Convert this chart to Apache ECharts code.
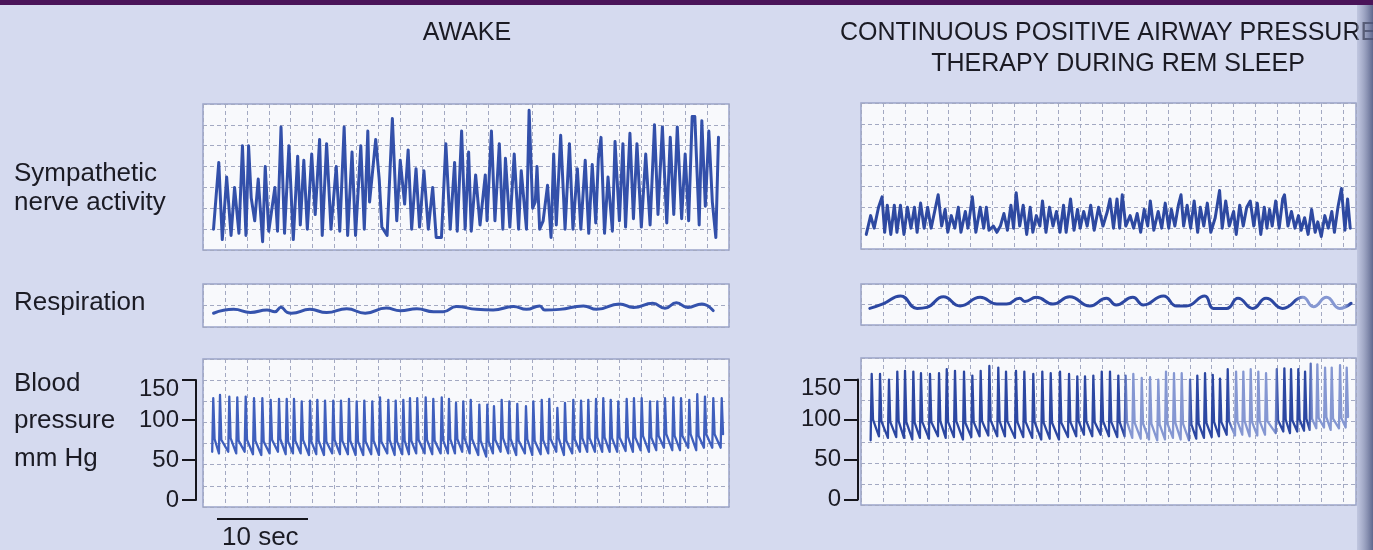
<!DOCTYPE html>
<html><head><meta charset="utf-8">
<script src="https://cdn.jsdelivr.net/npm/echarts@6/dist/echarts.min.js"></script>
<style>html,body{margin:0;padding:0;background:#d5daef;}#c{width:1373px;height:550px;}</style>
</head><body><div id="c"></div>
<script>
// ---------- DATA (time in s, nerve activity / respiration in grid units, BP in mmHg) ----------
const titleLeft = 'AWAKE';
const titleRight1 = 'CONTINUOUS POSITIVE AIRWAY PRESSURE';
const titleRight2 = 'THERAPY DURING REM SLEEP';
const rowLabels = [['Sympathetic', 'nerve activity'], ['Respiration'], ['Blood', 'pressure', 'mm Hg']];
const bpTicks = [0, 50, 100, 150];
const scaleBarLabel = '10 sec';

const symAwake = [[1.2,1.0],[1.8,4.2],[2.2,0.5],[2.7,3.5],[3.2,0.7],[3.6,3.0],[4.1,0.8],[4.5,5.0],[4.9,0.7],[5.2,5.0],[5.5,2.5],[5.9,1.4],[6.3,3.4],[6.8,0.4],[7.1,4.0],[7.5,0.9],[8.2,3.0],[8.5,0.9],[8.9,5.9],[9.3,0.8],[9.8,5.0],[10.3,0.5],[10.8,4.5],[11.1,1.2],[11.5,4.3],[11.9,1.0],[12.4,4.6],[12.8,1.7],[13.3,5.3],[13.6,0.7],[14.1,5.1],[14.6,1.0],[15.2,4.0],[15.6,0.9],[16.1,5.9],[16.5,0.7],[17.0,4.7],[17.4,0.7],[18.0,5.0],[18.4,1.0],[18.8,5.7],[19.0,2.3],[19.7,5.3],[20.1,3.4],[20.4,1.1],[21.0,0.7],[21.6,6.3],[22.1,1.4],[22.5,4.3],[23.0,2.2],[23.4,4.8],[23.8,1.0],[24.3,3.9],[24.7,1.1],[25.2,3.8],[25.7,1.0],[26.2,3.0],[26.6,0.6],[27.2,0.6],[27.7,5.1],[28.2,1.0],[28.7,4.2],[29.0,0.9],[29.5,5.7],[29.9,1.0],[30.3,4.7],[30.6,0.9],[31.1,3.6],[31.6,1.2],[32.2,3.6],[32.4,1.4],[32.9,5.7],[33.3,1.4],[33.8,5.1],[34.2,1.0],[34.5,4.4],[35.0,1.1],[35.5,4.6],[36.0,1.0],[36.3,3.8],[36.9,1.0],[37.2,6.7],[37.6,2.0],[37.9,2.3],[38.1,4.0],[38.4,1.0],[38.8,1.4],[39.3,3.1],[39.7,0.6],[40.0,4.6],[40.3,1.2],[40.8,5.5],[41.3,1.0],[41.8,5.1],[42.2,1.0],[42.7,3.9],[43.1,1.0],[43.6,4.3],[44.0,0.8],[44.4,4.1],[44.8,1.3],[45.1,4.4],[45.4,5.4],[45.8,0.8],[46.2,3.5],[46.7,0.9],[47.0,5.2],[47.5,1.4],[47.9,5.1],[48.2,1.1],[48.7,5.6],[49.1,1.5],[49.5,5.1],[50.0,1.1],[50.5,4.6],[51.0,1.2],[51.5,6.0],[51.9,1.7],[52.4,5.9],[52.9,1.3],[53.3,5.4],[53.7,1.7],[54.1,5.9],[54.6,1.5],[55.0,4.6],[55.4,1.4],[55.8,6.4],[56.1,6.4],[56.6,1.2],[56.9,6.2],[57.3,2.1],[57.7,5.7],[58.1,2.3],[58.5,0.6],[58.8,5.4]];

const symCpap = [[0.6,0.7],[1.1,1.6],[1.5,1.0],[2.0,2.0],[2.4,2.5],[2.7,0.8],[3.0,2.1],[3.4,0.7],[3.8,2.1],[4.1,0.8],[4.5,2.1],[4.9,0.7],[5.3,2.0],[5.7,1.0],[6.1,2.0],[6.4,0.8],[6.8,2.2],[7.2,1.0],[7.6,2.0],[8.0,1.0],[8.4,1.8],[8.8,2.6],[9.2,1.1],[9.6,1.9],[9.9,0.8],[10.3,1.6],[10.7,1.0],[11.1,2.0],[11.4,0.8],[11.9,1.8],[12.2,1.0],[12.7,2.5],[13.1,0.8],[13.6,2.0],[14.0,1.0],[14.3,2.0],[14.6,0.9],[15.1,1.1],[15.5,0.8],[15.9,1.1],[16.3,1.7],[16.7,0.9],[17.1,2.1],[17.4,1.0],[17.7,2.7],[18.1,1.1],[18.5,2.1],[18.9,0.7],[19.3,2.0],[19.6,0.8],[20.0,1.6],[20.4,1.1],[20.7,2.3],[21.1,0.8],[21.5,2.0],[21.9,1.1],[22.3,1.8],[22.7,0.8],[23.1,2.1],[23.4,0.8],[23.9,2.4],[24.3,0.9],[24.7,1.9],[25.0,1.0],[25.4,1.8],[25.8,1.1],[26.2,2.1],[26.6,0.9],[27.1,2.0],[27.6,1.1],[28.1,1.8],[28.4,2.4],[28.8,1.0],[29.2,2.4],[29.5,1.0],[29.8,2.6],[30.2,1.1],[30.7,1.6],[31.1,1.0],[31.5,1.7],[31.9,0.8],[32.3,1.9],[32.7,1.1],[33.0,2.3],[33.4,0.9],[33.9,1.8],[34.3,1.0],[34.7,2.2],[35.1,1.0],[35.4,1.9],[35.8,1.1],[36.2,2.1],[36.5,2.6],[36.8,1.1],[37.2,2.1],[37.6,1.0],[38.0,2.3],[38.4,0.8],[38.7,2.0],[39.1,1.1],[39.5,2.2],[39.9,0.8],[40.4,1.5],[40.9,2.8],[41.2,1.0],[41.6,2.3],[42.0,1.1],[42.5,1.8],[42.8,0.7],[43.2,2.1],[43.6,1.1],[44.0,2.0],[44.4,2.3],[44.8,1.1],[45.2,2.2],[45.6,0.7],[46.0,2.0],[46.3,1.0],[46.6,1.9],[46.9,1.1],[47.3,2.3],[47.7,1.0],[48.1,2.4],[48.3,2.6],[48.7,1.1],[49.1,1.8],[49.5,1.0],[49.9,1.6],[50.2,0.9],[50.6,1.5],[51.0,0.7],[51.4,1.9],[51.8,0.8],[52.1,1.3],[52.5,0.6],[52.9,1.6],[53.3,1.0],[53.7,1.8],[54.0,0.8],[54.4,2.0],[54.8,2.9],[55.2,0.9],[55.5,2.4],[55.8,1.0]];

const respAwake = [[1.2,0.64],[3.5,0.82],[5.4,0.68],[7.3,0.79],[8.2,0.71],[8.9,0.92],[9.6,0.68],[10.1,0.64],[12.2,0.82],[14.1,0.67],[16.4,0.85],[18.5,0.64],[20.9,0.88],[22.5,0.76],[24.4,0.85],[26.3,0.71],[27.4,0.71],[28.9,0.95],[31.2,0.82],[33.1,0.79],[35.4,0.95],[36.9,0.82],[38.4,0.98],[39.0,0.79],[40.7,0.82],[43.4,0.98],[44.9,0.82],[47.5,1.07],[49.1,0.91],[51.3,1.10],[52.7,0.87],[54.0,1.13],[55.3,0.91],[56.9,1.07],[58.2,0.76]];

const respCpap = [[1.0,0.81],[2.5,1.03],[4.5,1.42],[6.4,0.81],[7.5,0.86],[9.4,1.38],[11.3,0.93],[13.6,1.35],[15.5,1.02],[16.6,1.02],[18.1,1.30],[18.7,1.15],[20.0,1.35],[21.9,1.02],[23.8,1.38],[26.1,0.93],[28.0,1.30],[29.1,0.98],[31.0,1.35],[32.2,0.98],[34.5,1.42],[36.0,0.93],[37.1,0.93],[39.2,1.42],[40.2,0.81],[41.7,0.81],[43.0,1.30],[44.7,0.81],[46.2,1.30],[48.1,0.81],[50.4,1.35],[51.6,0.89],[53.1,1.35],[54.6,0.81],[55.9,1.06]];

// Blood pressure: one entry per heart beat (time of systolic peak, systolic, preceding diastolic foot, dicrotic notch)
const bpAwakeTimes = [1.17,1.94,3.00,3.91,4.87,5.82,6.77,7.72,8.67,9.55,10.38,11.26,12.21,13.04,13.92,14.86,15.74,16.65,17.53,18.40,19.31,20.19,21.14,21.98,22.85,23.61,24.44,25.40,26.27,27.23,28.06,28.86,29.69,30.54,31.52,32.43,33.19,34.07,34.94,35.85,36.84,37.68,38.64,39.50,40.42,41.29,42.24,43.12,43.95,44.83,45.66,46.51,47.37,48.33,49.16,50.04,50.99,51.82,52.70,53.65,54.53,55.47,56.38,57.26,58.21,59.17];
const bpAwakeSys = [127,131,129,128,129,127,127,125,126,126,126,123,124,125,124,124,124,126,123,124,123,128,125,124,125,127,127,128,126,128,126,121,123,125,119,119,117,125,123,120,117,123,125,126,115,121,125,124,125,126,127,125,123,126,127,127,123,123,127,128,127,125,132,129,127,127];
const bpAwakeDia = [60,58,60,58,60,57,56,58,60,57,58,58,56,57,56,58,57,57,56,56,57,56,58,56,57,57,58,58,57,58,58,58,60,58,56,54,58,60,58,56,58,56,57,58,60,56,58,60,60,60,60,60,60,61,60,62,60,62,65,62,62,65,62,65,65,65];
const bpAwakeNotch = [76,75,77,74,75,74,73,75,76,73,74,75,73,74,73,75,74,74,73,73,74,73,75,73,74,74,75,75,74,75,76,76,77,76,74,73,75,77,76,74,76,74,75,76,77,74,76,77,77,78,78,77,78,79,78,80,78,80,82,80,80,82,80,82,82,82];

const bpCpapTimes = [1.22,2.17,3.19,4.14,5.02,5.97,6.84,7.87,8.90,9.78,10.72,11.75,12.70,13.65,14.64,15.66,16.54,17.68,18.63,19.65,20.68,21.64,22.70,23.73,24.67,25.55,26.50,27.46,28.40,29.35,30.19,31.06,32.02,32.97,33.91,34.79,35.70,36.58,37.53,38.36,39.24,40.12,40.95,41.83,42.78,43.61,44.45,45.32,46.20,47.42,48.29,49.05,49.88,50.65,51.30,52.05,52.93,53.69,54.64,55.40];
const bpCpapSys = [157,157,150,160,161,160,158,157,158,163,161,160,155,161,167,165,160,161,160,157,160,158,160,157,154,154,155,160,160,155,155,157,152,153,150,160,158,158,150,155,158,156,151,163,160,160,163,160,158,163,164,163,163,160,170,169,165,165,168,165];
const bpCpapDia = [74,79,77,78,77,75,77,76,79,77,78,75,78,79,80,79,79,77,78,77,75,76,75,78,79,81,79,81,79,78,79,77,76,75,74,75,77,75,74,76,77,78,79,81,80,81,79,80,81,83,85,83,85,86,87,89,90,87,89,90];
const bpCpapNotch = [100,98,97,98,97,96,97,97,98,97,98,96,97,98,99,98,98,97,97,97,96,96,96,97,98,98,97,98,97,97,97,96,95,95,94,95,96,95,94,95,96,97,97,98,98,98,97,98,98,99,100,99,100,101,101,102,103,101,102,103];

// ---------- BUILD ----------
function beatTrace(times, sys, dia, notch) {
  const pts = [];
  for (let i = 0; i < times.length; i++) {
    pts.push([times[i] - 0.12, dia[i]]);
    pts.push([times[i], sys[i]]);
    pts.push([times[i] + 0.15, notch[i]]);
  }
  return pts;
}

const FONT = '"Liberation Sans", Arial, Helvetica, sans-serif';
const TXT = '#1b1b24';
const PANEL_BG = '#f8f9fc';
const PANEL_BORDER = '#9aa4c9';
const GRID_LINE = { color: '#a3a9c2', width: 1, type: [4, 3] };

const L = 203, LW = 526, R = 861, RW = 495;
const LMAX = 60, RMAX = 56.46;

const panels = [
  { left: L, top: 104, width: LW, height: 146 },
  { left: L, top: 284, width: LW, height: 43 },
  { left: L, top: 359, width: LW, height: 148 },
  { left: R, top: 103, width: RW, height: 146 },
  { left: R, top: 284, width: RW, height: 41 },
  { left: R, top: 358, width: RW, height: 147 }
];
const grids = panels.map(p => Object.assign({ show: true, backgroundColor: PANEL_BG, borderColor: PANEL_BORDER, borderWidth: 1.5 }, p));
grids.push({ left: 196, top: 380, width: 1, height: 120 });
grids.push({ left: 858, top: 379.5, width: 1, height: 120 });

const hidden = { axisLine: { show: false }, axisTick: { show: false }, axisLabel: { show: false } };
const xAxes = [];
for (let i = 0; i < 6; i++) {
  xAxes.push(Object.assign({ type: 'value', gridIndex: i, min: 0, max: i < 3 ? LMAX : RMAX, interval: 2.5,
    splitLine: { show: true, lineStyle: GRID_LINE } }, hidden));
}
xAxes.push({ type: 'value', gridIndex: 6, show: false });
xAxes.push({ type: 'value', gridIndex: 7, show: false });

function gridY(g, max) {
  return Object.assign({ type: 'value', gridIndex: g, min: 0, max: max, interval: 1,
    splitLine: { show: true, lineStyle: GRID_LINE } }, hidden);
}
const scaleAxis = g => ({
  type: 'value', gridIndex: g, min: bpTicks[0], max: bpTicks[bpTicks.length - 1], interval: 50, position: 'left',
  axisLine: { show: true, lineStyle: { color: '#15151c', width: 2 } },
  axisTick: { show: true, inside: false, length: 14, lineStyle: { color: '#15151c', width: 2 } },
  axisLabel: { show: true, margin: 17, color: TXT, fontFamily: FONT, fontSize: 24,
    formatter: v => v === 150 ? '{d|' + v + '}' : '{n|' + v + '}',
    rich: { d: { padding: [18, 0, 0, 0], fontSize: 24, fontFamily: FONT, color: TXT }, n: { fontSize: 24, fontFamily: FONT, color: TXT } } },
  splitLine: { show: false }
});
const yAxes = [
  gridY(0, 7),                     // 0
  gridY(1, 2),                     // 1
  gridY(2, 7),                     // 2 grid lines of BP awake
  { type: 'value', gridIndex: 2, min: -9, max: 176, show: false, splitLine: { show: false } }, // 3
  gridY(3, 7),                     // 4
  gridY(4, 2),                     // 5
  gridY(5, 7),                     // 6
  { type: 'value', gridIndex: 5, min: -7, max: 177, show: false, splitLine: { show: false } }, // 7
  scaleAxis(6),                    // 8
  scaleAxis(7)                     // 9
];

const line = (xi, yi, data, color, width, smooth) => ({
  type: 'line', xAxisIndex: xi, yAxisIndex: yi, data: data, showSymbol: false, smooth: smooth || false,
  lineStyle: { color: color, width: width, join: 'round', cap: 'round' }, silent: true, animation: false
});

// horizontal (screen-space) colour bands imitating the lighter watermark areas of the print
const DARK = '#2c47a2', LIGHT = '#8597d2';
function bands(x0, x1, cuts) {
  const stops = [];
  cuts.forEach(c => stops.push({ offset: (c[0] - x0) / (x1 - x0), color: c[1] }));
  return new echarts.graphic.LinearGradient(x0, 0, x1, 0, stops, true);
}
const bpCpapColor = bands(R, R + RW, [[R, DARK], [1123, DARK], [1128, LIGHT], [1187, LIGHT], [1192, DARK], [1228, DARK], [1233, LIGHT], [1274, LIGHT], [1279, DARK], [1308, DARK], [1313, LIGHT], [R + RW, LIGHT]]);
const respCpapColor = bands(R, R + RW, [[R, DARK], [1295, DARK], [1303, LIGHT], [1345, LIGHT], [1350, DARK], [R + RW, DARK]]);

const series = [
  line(0, 0, symAwake, '#3350aa', 3),
  line(1, 1, respAwake, '#3553ad', 3, 0.5),
  line(2, 3, beatTrace(bpAwakeTimes, bpAwakeSys, bpAwakeDia, bpAwakeNotch), '#3f5fbd', 2.3),
  line(3, 4, symCpap, '#2e49a1', 3),
  line(4, 5, respCpap, respCpapColor, 3, 0.5),
  line(5, 7, beatTrace(bpCpapTimes, bpCpapSys, bpCpapDia, bpCpapNotch), bpCpapColor, 2.3),
  { type: 'line', xAxisIndex: 6, yAxisIndex: 8, data: [], silent: true },
  { type: 'line', xAxisIndex: 7, yAxisIndex: 9, data: [], silent: true }
];

const txt = (text, x, y, size, align) => ({ type: 'text', silent: true, style: { text: text, x: x, y: y, fill: TXT, font: size + 'px ' + FONT, align: align || 'left', verticalAlign: 'middle' } });

const graphic = [
  { type: 'rect', silent: true, z: -10, shape: { x: 0, y: 0, width: 1373, height: 5 }, style: { fill: '#4a1459' } },
  txt(titleLeft, 467, 33, 25, 'center'),
  txt(titleRight1, 840, 33, 25),
  txt(titleRight2, 1118, 64, 25, 'center'),
  txt(rowLabels[0][0], 14, 174, 26),
  txt(rowLabels[0][1], 14, 203, 26),
  txt(rowLabels[1][0], 14, 303, 26),
  txt(rowLabels[2][0], 14, 384, 26),
  txt(rowLabels[2][1], 14, 421, 26),
  txt(rowLabels[2][2], 14, 459, 26),
  { type: 'line', silent: true, shape: { x1: 217, y1: 519, x2: 308, y2: 519 }, style: { stroke: '#15151c', lineWidth: 2 } },
  txt(scaleBarLabel, 222, 538, 26),
  { type: 'rect', silent: true, z: 100, shape: { x: 1357, y: 5, width: 16, height: 545 },
    style: { fill: new echarts.graphic.LinearGradient(0, 0, 1, 0, [{ offset: 0, color: 'rgba(160,168,200,0.4)' }, { offset: 1, color: 'rgba(80,90,130,0.9)' }]) } }
];

const chart = echarts.init(document.getElementById('c'), null, { renderer: 'canvas' });
chart.setOption({
  backgroundColor: '#d5daef',
  animation: false,
  grid: grids, xAxis: xAxes, yAxis: yAxes, series: series, graphic: graphic
});
</script></body></html>
